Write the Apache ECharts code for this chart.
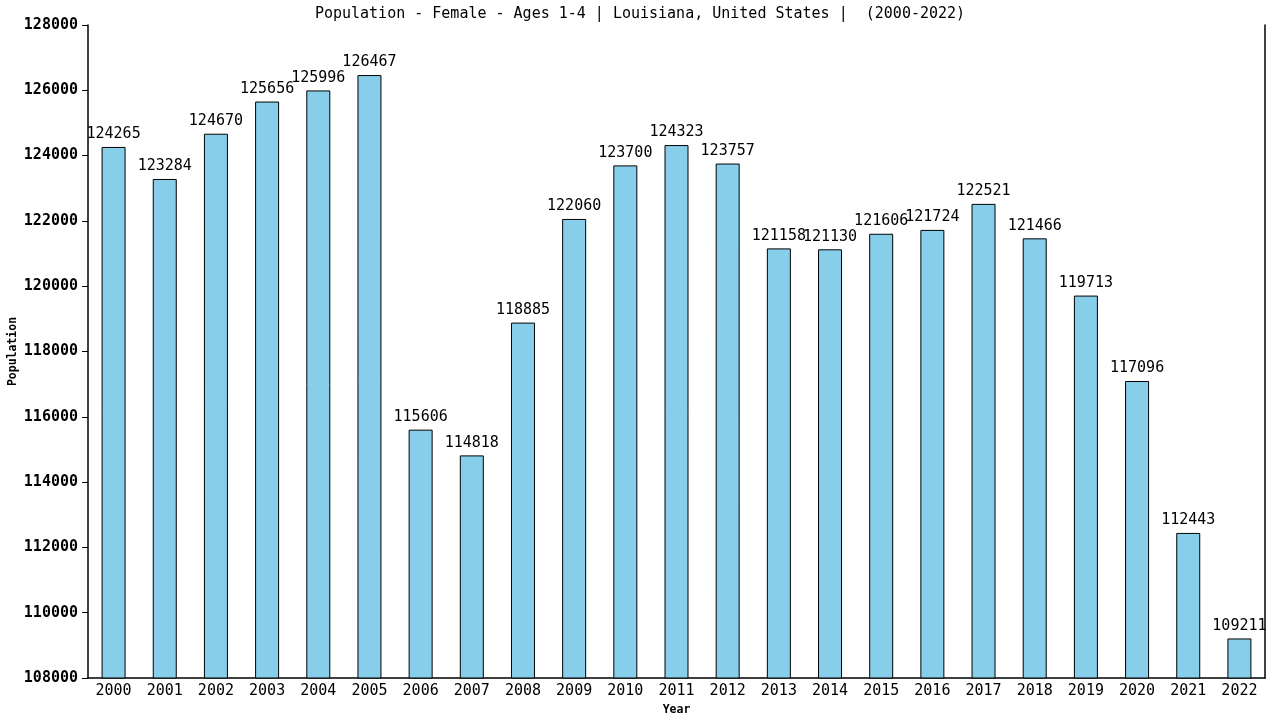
<!DOCTYPE html>
<html><head><meta charset="utf-8">
<script src="https://cdn.jsdelivr.net/npm/echarts@6/dist/echarts.min.js"></script>
<style>html,body{margin:0;padding:0;background:#fff}#c{width:1280px;height:720px}</style>
</head><body><div id="c"></div>
<script>
var years = ['2000','2001','2002','2003','2004','2005','2006','2007','2008','2009','2010','2011','2012','2013','2014','2015','2016','2017','2018','2019','2020','2021','2022'];
var population = [124265,123284,124670,125656,125996,126467,115606,114818,118885,122060,123700,124323,123757,121158,121130,121606,121724,122521,121466,119713,117096,112443,109211];
var yMin = 108000, yMax = 128000, yStep = 2000;
var titleText = 'Population - Female - Ages 1-4 | Louisiana, United States |  (2000-2022)';
var mono = '"DejaVu Sans Mono", monospace';
var chart = echarts.init(document.getElementById('c'));
chart.setOption({
  animation: false,
  backgroundColor: '#fff',
  title: {text: titleText, left: 'center', top: 2, textStyle: {fontFamily: mono, fontSize: 15, fontWeight: 'normal', color: '#000'}},
  grid: {left: 88, right: 15, top: 25, bottom: 42, outerBoundsMode: 'none', containLabel: false},
  xAxis: {
    type: 'category', data: years, name: 'Year', nameLocation: 'middle', nameGap: 26, nameMoveOverlap: false,
    nameTextStyle: {fontFamily: mono, fontSize: 11.5, fontWeight: 'bold', color: '#000'},
    axisLine: {lineStyle: {color: '#000', width: 1.5}}, axisTick: {show: false},
    axisLabel: {fontFamily: mono, fontSize: 15, color: '#000', margin: 6}
  },
  yAxis: [{
    type: 'value', min: yMin, max: yMax, interval: yStep, name: 'Population', nameLocation: 'middle', nameGap: 69, nameMoveOverlap: false,
    nameTextStyle: {fontFamily: mono, fontSize: 11.5, fontWeight: 'bold', color: '#000'},
    axisLine: {show: true, lineStyle: {color: '#000', width: 1.5}},
    axisTick: {show: true, length: 6, lineStyle: {color: '#000'}},
    axisLabel: {fontFamily: mono, fontSize: 15, fontWeight: 'bold', color: '#000', margin: 10, formatter: function (v) { return String(v); }},
    splitLine: {show: false}
  }, {
    type: 'value', min: yMin, max: yMax, interval: yStep, position: 'right',
    axisLine: {show: true, lineStyle: {color: '#000', width: 1.5}},
    axisTick: {show: false}, axisLabel: {show: false}, splitLine: {show: false}
  }],
  series: [{
    type: 'bar', data: population, barWidth: 24,
    itemStyle: {color: '#87CEEB', borderColor: '#000', borderWidth: 1},
    label: {show: true, position: 'top', distance: 5, fontFamily: mono, fontSize: 15, color: '#000'}
  }]
});
</script></body></html>
